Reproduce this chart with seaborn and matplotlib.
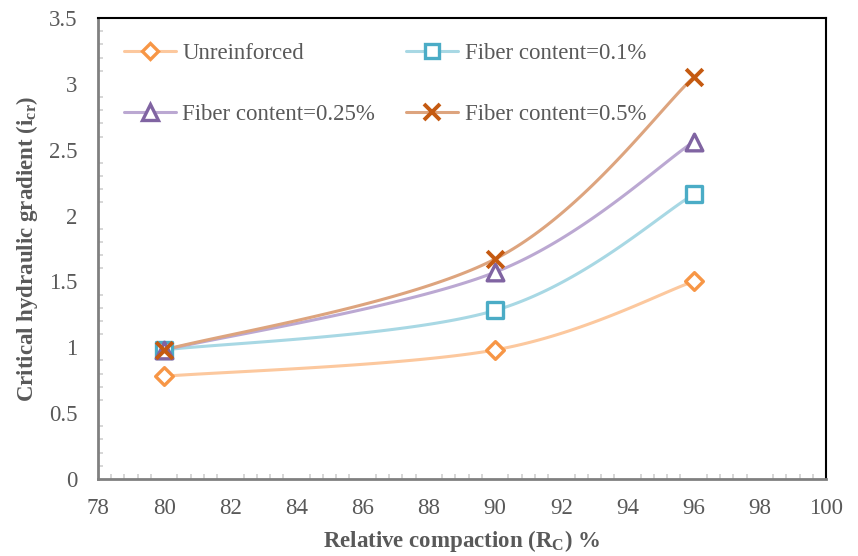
import numpy as np
import pandas as pd
import matplotlib
matplotlib.use("Agg")
import matplotlib.pyplot as plt
import seaborn as sns
from matplotlib.ticker import MultipleLocator
from matplotlib.lines import Line2D

# ---- data ----
compaction = [80, 90, 96]
unreinforced = [0.78, 0.98, 1.50]
fiber_01 = [0.98, 1.28, 2.16]
fiber_025 = [0.98, 1.57, 2.56]
fiber_05 = [0.98, 1.67, 3.05]
series_names = ["Unreinforced", "Fiber content=0.1%", "Fiber content=0.25%", "Fiber content=0.5%"]
x_ticks = [78, 80, 82, 84, 86, 88, 90, 92, 94, 96, 98, 100]
y_ticks = [0, 0.5, 1, 1.5, 2, 2.5, 3, 3.5]

sns.set_theme(style="white")
plt.rcParams['font.family'] = ['Liberation Serif', 'DejaVu Serif']
plt.rcParams['mathtext.fontset'] = 'custom'
plt.rcParams['mathtext.rm'] = 'Liberation Serif'

df = pd.DataFrame({
    "x": compaction * 4,
    "y": unreinforced + fiber_01 + fiber_025 + fiber_05,
    "series": sum([[n] * len(compaction) for n in series_names], []),
})

marker_colors = ["#F79646", "#4BACC6", "#8064A2", "#C55A11"]
line_colors = ["#FCC89E", "#A8D8E4", "#BBA8D2", "#DDA47E"]
markers = ["D", "s", "^", "x"]
msizes = [9, 11, 12, 12]

def smooth(xs, ys, n=60):
    # Catmull-Rom style Bezier smoothing, as used for smoothed lines in spreadsheets
    P = np.column_stack([xs, ys]).astype(float)
    pts = [P[0]] + list(P) + [P[-1]]
    out = []
    for i in range(1, len(pts) - 2):
        p0, p1, p2, p3 = pts[i - 1], pts[i], pts[i + 1], pts[i + 2]
        c1 = p1 + (p2 - p0) / 6.0
        c2 = p2 - (p3 - p1) / 6.0
        t = np.linspace(0, 1, n)[:, None]
        seg = ((1 - t) ** 3) * p1 + 3 * ((1 - t) ** 2) * t * c1 + 3 * (1 - t) * t ** 2 * c2 + t ** 3 * p2
        out.append(seg)
    c = np.vstack(out)
    return c[:, 0], c[:, 1]

W, H = 858, 556
fig = plt.figure(figsize=(W / 100, H / 100), dpi=100)
L, R, T, B = 98, 826, 18, 479
ax = fig.add_axes([L / W, 1 - B / H, (R - L) / W, (B - T) / H])

for i, name in enumerate(series_names):
    sub = df[df.series == name]
    sx, sy = smooth(sub.x.values, sub.y.values)
    sns.lineplot(x=sx, y=sy, ax=ax, color=line_colors[i], lw=2.2, sort=False, zorder=2)
    if markers[i] == "x":
        sns.scatterplot(x=sub.x, y=sub.y, ax=ax, marker="x", s=msizes[i] ** 2, color=marker_colors[i],
                        linewidth=2.8, zorder=3, legend=False)
    else:
        sns.scatterplot(x=sub.x, y=sub.y, ax=ax, marker=markers[i], s=msizes[i] ** 2,
                        facecolor="white", edgecolor=marker_colors[i], linewidth=2.4,
                        zorder=3, legend=False)

ax.set_xlim(78, 100)
ax.set_ylim(0, 3.5)
ax.set_xticks(x_ticks)
ax.set_yticks(y_ticks)
ax.set_xticklabels([str(v) for v in x_ticks])
ax.set_yticklabels([("%g" % v) for v in y_ticks])
ax.xaxis.set_minor_locator(MultipleLocator(0.4))
ax.yaxis.set_minor_locator(MultipleLocator(0.1))
ax.tick_params(axis="both", which="major", direction="in", length=0, labelsize=16.5,
               labelcolor="#595959")
ax.tick_params(axis="y", which="major", pad=15)
ax.tick_params(axis="x", which="major", pad=14)
ax.tick_params(axis="both", which="minor", direction="in", length=3.5, color="#D0D0D0", width=1.2)
ax.tick_params(bottom=True, left=True, which="minor")

for s in ["top", "right"]:
    ax.spines[s].set_color("#000000")
    ax.spines[s].set_linewidth(1.5)
for s in ["left", "bottom"]:
    ax.spines[s].set_color("#808080")
    ax.spines[s].set_linewidth(2.0)

ax.set_xlabel(r"Relative compaction (R$_\mathregular{C}$) %", fontsize=16.5, fontweight="bold",
              color="#595959", labelpad=6)
ax.set_ylabel(r"Critical hydraulic gradient (i$_\mathregular{cr}$)", fontsize=16.5, fontweight="bold",
              color="#595959", labelpad=6)

handles = []
for i, name in enumerate(series_names):
    if markers[i] == "x":
        h = Line2D([], [], color=line_colors[i], lw=2.2, marker="x", markersize=msizes[i] * 0.95,
                   markeredgecolor=marker_colors[i], markeredgewidth=2.8)
    else:
        h = Line2D([], [], color=line_colors[i], lw=2.2, marker=markers[i], markersize=msizes[i] * 0.95,
                   markerfacecolor="white", markeredgecolor=marker_colors[i], markeredgewidth=2.4)
    handles.append(h)
# row-major layout: reorder for matplotlib's column-major filling
order = [0, 2, 1, 3]
leg = ax.legend([handles[k] for k in order], [series_names[k] for k in order],
                loc="upper left", ncol=2, frameon=False, fontsize=16.5,
                bbox_to_anchor=(26 / (R - L), 1 - 25 / (B - T)), borderaxespad=0, borderpad=0,
                handlelength=2.27, handletextpad=0.28,
                columnspacing=1.35, labelspacing=1.75, labelcolor="#595959")

fig.savefig("out.png", dpi=100)
